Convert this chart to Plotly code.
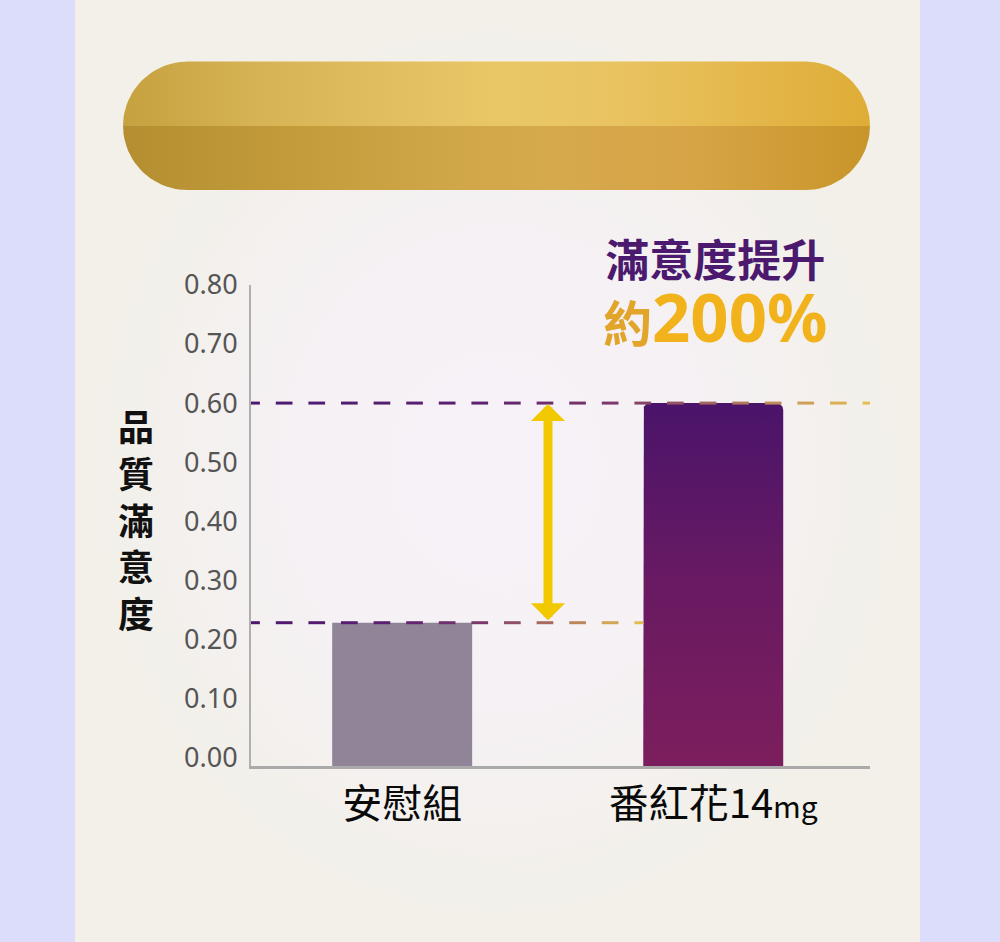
import numpy as np
import plotly.graph_objects as go

# ---------------- data ----------------
CATEGORIES = ["安慰組", "番紅花14mg"]
CATEGORY_LABELS = ["安慰組", "番紅花14<span style='font-size:30px'>mg</span>"]
VALUES = [0.228, 0.600]
Y_TICKS = [0.0, 0.1, 0.2, 0.3, 0.4, 0.5, 0.6, 0.7, 0.8]
Y_TICK_LABELS = ["0.00", "0.10", "0.20", "0.30", "0.40", "0.50", "0.60", "0.70", "0.80"]
Y_TITLE = "品質滿意度"
HEADLINE = "滿意度提升"
CALLOUT_PREFIX = "約"
CALLOUT_VALUE = "200%"

# ---------------- layout geometry ----------------
W, H = 1000, 942
PLOT_L, PLOT_R, PLOT_T, PLOT_B = 251, 870, 285, 766
Y_MIN, Y_MAX = -0.0147, 0.80
X_RANGE = [-0.486, 1.504]
BAR_W = 0.45
PX_X = (PLOT_R - PLOT_L) / (X_RANGE[1] - X_RANGE[0])
PX_Y = (PLOT_B - PLOT_T) / (Y_MAX - Y_MIN)

CJK = "Noto Sans CJK TC"
LATIN = "Noto Sans"

fig = go.Figure()


def hex2rgb(h):
    h = h.lstrip("#")
    return [int(h[i:i + 2], 16) for i in (0, 2, 4)]


def interp_color(stops, f):
    for (f0, c0), (f1, c1) in zip(stops[:-1], stops[1:]):
        if f <= f1:
            t = 0 if f1 == f0 else (f - f0) / (f1 - f0)
            a, b = hex2rgb(c0), hex2rgb(c1)
            return "rgb(%d,%d,%d)" % tuple(round(a[k] + (b[k] - a[k]) * t) for k in range(3))
    return stops[-1][1]


# ---------------- decoration layer (pixel axes x / y) ----------------
# panel background
fig.add_trace(go.Scatter(
    x=[75, 920, 920, 75, 75], y=[0, 0, H, H, 0], mode="lines",
    fill="toself", line=dict(width=0),
    fillgradient=dict(type="radial", colorscale=[[0, "#f7f2f8"], [0.5, "#f5f1f4"], [1, "#f2f0e8"]]),
    hoverinfo="skip", showlegend=False, xaxis="x", yaxis="y"))

# golden pill banner (two halves)
PL, PR, PT, PB = 123, 870, 61, 190
R = (PB - PT) / 2
CY = (PT + PB) / 2


def half_pill(top=True):
    xs, ys = [], []
    s = -1 if top else 1
    cy = CY + (0.6 if top else 0)
    th = np.linspace(np.pi, np.pi / 2, 24)
    xs += list(PL + R + R * np.cos(th)); ys += list(cy + s * R * np.sin(th))
    th = np.linspace(np.pi / 2, 0, 24)
    xs += list(PR - R + R * np.cos(th)); ys += list(cy + s * R * np.sin(th))
    xs.append(xs[0]); ys.append(ys[0])
    return xs, ys


for top, cs in [
    (False, [[0, "#b48e30"], [0.24, "#c49c3c"], [0.44, "#d0a748"], [0.585, "#d6a94d"],
             [0.77, "#d6a445"], [1, "#c8952a"]]),
    (True, [[0, "#c6a13f"], [0.17, "#d5b253"], [0.37, "#e2c062"], [0.5, "#e9c767"],
            [0.665, "#e9c360"], [0.84, "#e4b74b"], [1, "#dead36"]]),
]:
    xs, ys = half_pill(top)
    fig.add_trace(go.Scatter(
        x=xs, y=ys, mode="lines", fill="toself", line=dict(width=0),
        fillgradient=dict(type="horizontal", colorscale=cs),
        hoverinfo="skip", showlegend=False, xaxis="x", yaxis="y"))

# ---------------- chart layer (x2 / y2) ----------------
# placebo bar
c, v = 0, VALUES[0]
fig.add_trace(go.Scatter(
    x=[c - BAR_W / 2, c - BAR_W / 2, c + BAR_W / 2, c + BAR_W / 2, c - BAR_W / 2],
    y=[Y_MIN, v, v, Y_MIN, Y_MIN], mode="lines", fill="toself",
    fillcolor="#8f8498", line=dict(width=0), name=CATEGORIES[0],
    showlegend=False, xaxis="x2", yaxis="y2"))

# saffron bar with rounded top corners and vertical gradient
c, v = 1, VALUES[1]
r = 7
rx, ry = r / PX_X, r / PX_Y
x0, x1 = c - BAR_W / 2, c + BAR_W / 2
bx, by = [x0, x0], [Y_MIN, v - ry]
th = np.linspace(np.pi, np.pi / 2, 12)
bx += list(x0 + rx + rx * np.cos(th)); by += list(v - ry + ry * np.sin(th))
th = np.linspace(np.pi / 2, 0, 12)
bx += list(x1 - rx + rx * np.cos(th)); by += list(v - ry + ry * np.sin(th))
bx += [x1, x0]; by += [Y_MIN, Y_MIN]
fig.add_trace(go.Scatter(
    x=bx, y=by, mode="lines", fill="toself", line=dict(width=0),
    fillgradient=dict(type="vertical",
                      colorscale=[[0, "#7c1e5d"], [0.5, "#691a62"], [1, "#4a146a"]]),
    name=CATEGORIES[1], showlegend=False, xaxis="x2", yaxis="y2"))

shapes = []
# gridlines (skip those hidden by the highlight lines)
for t in Y_TICKS:
    if t <= 0 or any(abs(t - hv) < 0.01 for hv in VALUES):
        continue
    shapes.append(dict(type="line", xref="x2 domain", yref="y2", x0=0, x1=1, y0=t, y1=t,
                       line=dict(color="#bababa", width=1.6), layer="below"))

# dashed highlight lines with purple -> gold gradient
DASH_STOPS = [(0, "#4b1a6e"), (0.35, "#5a2070"), (0.6, "#7d3b68"), (0.76, "#a86c5e"),
              (0.9, "#cea058"), (1, "#e6c052")]
bar2_left_px = PLOT_L + (1 - BAR_W / 2 - X_RANGE[0]) * PX_X
line_ends = {0: bar2_left_px, 1: PLOT_R}
PERIOD, DASH, PHASE = 32.6, 16.7, 243.2
for i, hv in enumerate(VALUES):
    xe = line_ends[i]
    k = 0
    while True:
        a = PHASE + k * PERIOD
        b = a + DASH
        k += 1
        if a >= xe:
            break
        a2, b2 = max(a, PLOT_L), min(b, xe)
        if b2 <= a2:
            continue
        f = ((a2 + b2) / 2 - PLOT_L) / (xe - PLOT_L)
        shapes.append(dict(type="line", xref="x", yref="y2", x0=a2, x1=b2, y0=hv, y1=hv,
                           line=dict(color=interp_color(DASH_STOPS, f), width=3)))

annotations = []
# double arrow between the two values
ARROW_X = 548
annotations.append(dict(
    x=ARROW_X, y=VALUES[1], xref="x", yref="y2",
    ax=ARROW_X, ay=VALUES[0], axref="x", ayref="y2",
    text="", showarrow=True, arrowside="end+start",
    arrowhead=1, startarrowhead=1, arrowsize=0.63, startarrowsize=0.63,
    arrowwidth=9, arrowcolor="#f2c800", standoff=1, startstandoff=1))

# headline + callout (one text block)
annotations.append(dict(
    x=715, y=296, xref="x", yref="y", showarrow=False,
    text=("<span style='font-size:44px;color:#4b1a6e'><b>" + HEADLINE + "</b></span><br>"
          "<span style='font-size:49px;color:#e2a52b'><b>" + CALLOUT_PREFIX + "</b></span>"
          "<span style='font-size:67px;color:#f1b21c'><b>" + CALLOUT_VALUE + "</b></span>"),
    font=dict(family=LATIN + ", " + CJK, size=50, color="#4b1a6e"),
    xanchor="center", yanchor="middle", align="center"))

# vertical y-axis title
annotations.append(dict(
    x=136, y=518, xref="x", yref="y", showarrow=False,
    text="<br>".join("<b>" + ch + "</b>" for ch in Y_TITLE),
    font=dict(family=CJK, size=36, color="#111111"), xanchor="center", yanchor="middle"))

fig.update_layout(
    width=W, height=H, margin=dict(l=0, r=0, t=0, b=0, pad=0, autoexpand=False),
    paper_bgcolor="#dcdcfb", plot_bgcolor="rgba(0,0,0,0)",
    showlegend=False, hovermode=False,
    xaxis=dict(domain=[0, 1], range=[0, W], visible=False, fixedrange=True, automargin=False),
    yaxis=dict(domain=[0, 1], range=[H, 0], visible=False, fixedrange=True, anchor="x",
               automargin=False),
    xaxis2=dict(domain=[PLOT_L / W, PLOT_R / W], range=X_RANGE, anchor="y2",
                tickmode="array", tickvals=[0, 1], ticktext=CATEGORY_LABELS,
                tickfont=dict(family=CJK, size=40, color="#0a0a0a"),
                showgrid=False, zeroline=False, showline=True, linecolor="#aaaaaa",
                linewidth=2.5, ticks="", ticklabelstandoff=1, fixedrange=True,
                automargin=False),
    yaxis2=dict(domain=[(H - PLOT_B) / H, (H - PLOT_T) / H], range=[Y_MIN, Y_MAX], anchor="x2",
                tickmode="array", tickvals=Y_TICKS, ticktext=Y_TICK_LABELS,
                tickfont=dict(family=LATIN, size=27, color="#555555"),
                showgrid=False, zeroline=False, showline=True, linecolor="#b0b0b0",
                linewidth=2, ticks="", ticklabelstandoff=6, fixedrange=True,
                automargin=False),
    shapes=shapes, annotations=annotations,
)

fig.write_html(
    "out.html",
    config={"displayModeBar": False},
    post_script="document.body.style.margin='0';document.body.style.background='#dcdcfb';",
)
